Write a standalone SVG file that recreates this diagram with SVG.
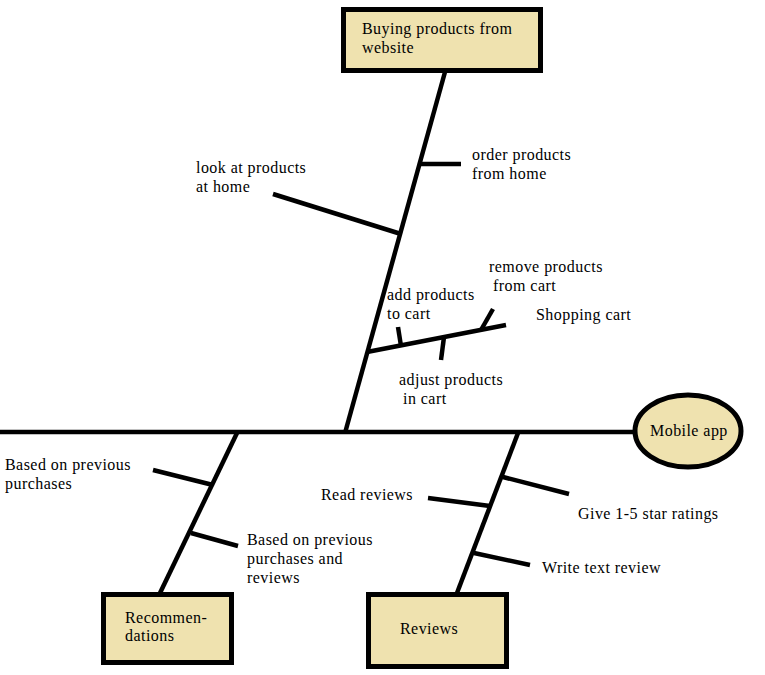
<svg xmlns="http://www.w3.org/2000/svg" width="765" height="675" viewBox="0 0 765 675">
<style>
.bg{fill:#ffffff}
.box{fill:#efe2af;stroke:#000;stroke-width:5}
.ln{stroke:#000;stroke-width:4.5;fill:none;stroke-linecap:butt}
.t{font-family:"Liberation Serif","DejaVu Serif",serif;font-size:16px;letter-spacing:0.45px;fill:#000}
</style>
<rect class="bg" x="0" y="0" width="765" height="675"/>
<g id="connectors">
<line class="ln" x1="0" y1="432" x2="635" y2="432"/>
<line class="ln" x1="445" y1="72" x2="345" y2="433"/>
<line class="ln" x1="421" y1="164" x2="461" y2="164"/>
<line class="ln" x1="273" y1="194" x2="401" y2="234"/>
<line class="ln" x1="367" y1="352" x2="506" y2="325"/>
<line class="ln" x1="398" y1="327" x2="401" y2="346"/>
<line class="ln" x1="493" y1="309" x2="481" y2="330"/>
<line class="ln" x1="444" y1="337" x2="441" y2="360"/>
<line class="ln" x1="237" y1="433" x2="160" y2="593"/>
<line class="ln" x1="153" y1="470" x2="213" y2="485"/>
<line class="ln" x1="191" y1="533" x2="238" y2="546"/>
<line class="ln" x1="518" y1="433" x2="457" y2="593"/>
<line class="ln" x1="503" y1="477" x2="569" y2="494"/>
<line class="ln" x1="428" y1="498" x2="490" y2="506"/>
<line class="ln" x1="474" y1="553" x2="530" y2="565"/>
</g>
<g id="node-website">
<rect class="box" x="343.5" y="9.5" width="197" height="61"/>
<text class="t" x="362" y="34">Buying products from</text>
<text class="t" x="362" y="53">website</text>
</g>
<g id="node-mobile">
<ellipse class="box" cx="688" cy="431" rx="53" ry="36" stroke-width="4.5"/>
<text class="t" x="650" y="436">Mobile app</text>
</g>
<g id="node-recommendations">
<rect class="box" x="103.5" y="594.5" width="128" height="68"/>
<text class="t" x="125" y="623">Recommen-</text>
<text class="t" x="125" y="641">dations</text>
</g>
<g id="node-reviews">
<rect class="box" x="368.5" y="594.5" width="138" height="72"/>
<text class="t" x="400" y="634">Reviews</text>
</g>
<g id="labels">
<text class="t" x="196" y="173">look at products</text>
<text class="t" x="196" y="192">at home</text>
<text class="t" x="472" y="160">order products</text>
<text class="t" x="472" y="179">from home</text>
<text class="t" x="489" y="272">remove products</text>
<text class="t" x="493" y="291">from cart</text>
<text class="t" x="387" y="300">add products</text>
<text class="t" x="387" y="319">to cart</text>
<text class="t" x="536" y="320">Shopping cart</text>
<text class="t" x="399" y="385">adjust products</text>
<text class="t" x="403" y="404">in cart</text>
<text class="t" x="5" y="470">Based on previous</text>
<text class="t" x="5" y="489">purchases</text>
<text class="t" x="247" y="545">Based on previous</text>
<text class="t" x="247" y="564">purchases and</text>
<text class="t" x="247" y="583">reviews</text>
<text class="t" x="321" y="500">Read reviews</text>
<text class="t" x="578" y="519">Give 1-5 star ratings</text>
<text class="t" x="542" y="573">Write text review</text>
</g>
</svg>
